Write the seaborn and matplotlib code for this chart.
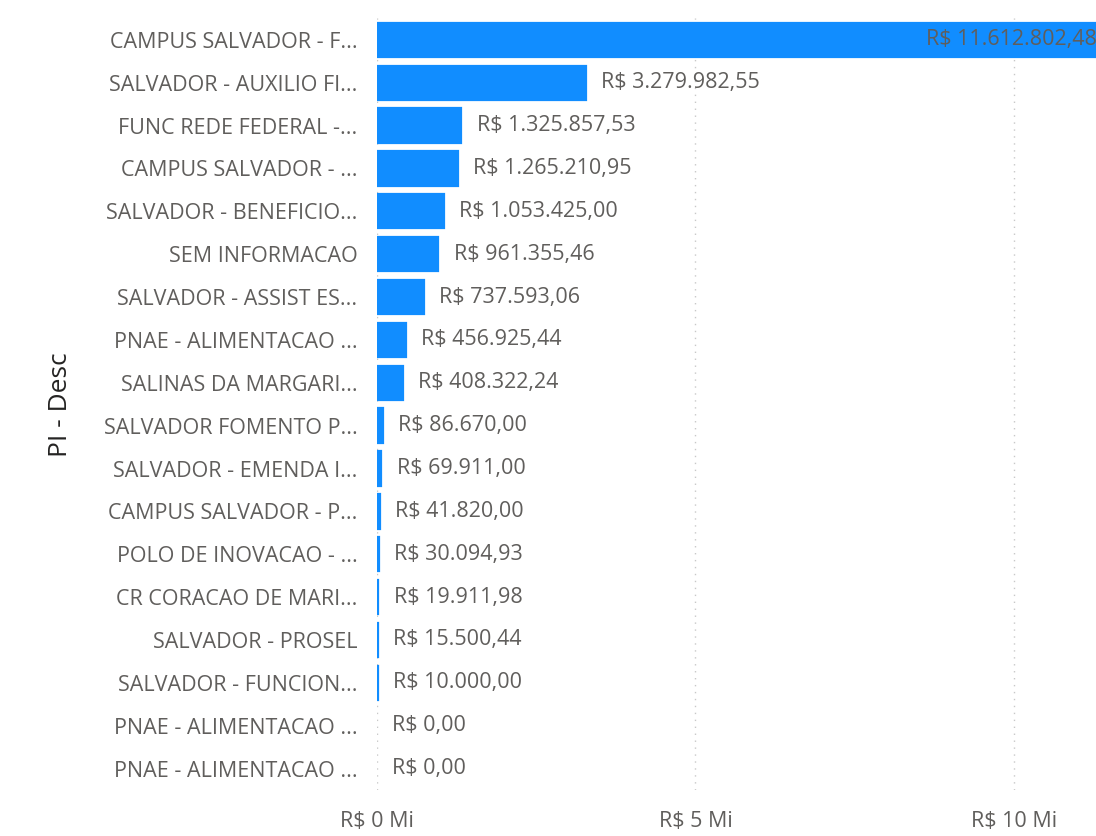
import matplotlib.pyplot as plt
import pandas as pd
import seaborn as sns
from matplotlib.ticker import FuncFormatter

categorias = [
    "CAMPUS SALVADOR - F...",
    "SALVADOR - AUXILIO FI...",
    "FUNC REDE FEDERAL -...",
    "CAMPUS SALVADOR - ...",
    "SALVADOR - BENEFICIO...",
    "SEM INFORMACAO",
    "SALVADOR - ASSIST ES...",
    "PNAE - ALIMENTACAO ...",
    "SALINAS DA MARGARI...",
    "SALVADOR FOMENTO P...",
    "SALVADOR - EMENDA I...",
    "CAMPUS SALVADOR - P...",
    "POLO DE INOVACAO - ...",
    "CR CORACAO DE MARI...",
    "SALVADOR - PROSEL",
    "SALVADOR - FUNCION...",
    "PNAE - ALIMENTACAO ...",
    "PNAE - ALIMENTACAO ...",
]
valores = [
    11612802.48, 3279982.55, 1325857.53, 1265210.95, 1053425.00,
    961355.46, 737593.06, 456925.44, 408322.24, 86670.00,
    69911.00, 41820.00, 30094.93, 19911.98, 15500.44,
    10000.00, 0.00, 0.00,
]
rotulos_valor = [
    "R$ 11.612.802,48", "R$ 3.279.982,55", "R$ 1.325.857,53", "R$ 1.265.210,95",
    "R$ 1.053.425,00", "R$ 961.355,46", "R$ 737.593,06", "R$ 456.925,44",
    "R$ 408.322,24", "R$ 86.670,00", "R$ 69.911,00", "R$ 41.820,00",
    "R$ 30.094,93", "R$ 19.911,98", "R$ 15.500,44", "R$ 10.000,00",
    "R$ 0,00", "R$ 0,00",
]

# id unico por linha, porque alguns nomes truncados se repetem
df = pd.DataFrame({
    "id": [str(i) for i in range(len(categorias))],
    "PI - Desc": categorias,
    "Valor": valores,
})

sns.set_theme(style="white")
plt.rcParams["font.family"] = ["Open Sans", "DejaVu Sans"]

fig = plt.figure(figsize=(10.96, 8.36), dpi=100)
ax = fig.add_axes([0.344, 0.055, 0.656, 0.923])

sns.barplot(data=df, x="Valor", y="id", color="#118DFF", width=0.8,
            saturation=1, edgecolor="#118DFF", linewidth=1.6, ax=ax, zorder=2)

# barras com valor zero nao aparecem (sem contorno)
for p in ax.patches:
    if p.get_width() == 0:
        p.set_linewidth(0)

ax.set_yticks(range(len(categorias)))
ax.set_yticklabels(categorias)
ax.set_xlim(0, 11.29e6)
ax.set_xticks([0, 5e6, 10e6])
ax.xaxis.set_major_formatter(FuncFormatter(lambda v, p: f"R$ {v / 1e6:.0f} Mi"))
ax.grid(axis="x", linestyle=(0, (1, 4)), color="#C8C8C8", linewidth=1, zorder=0)
ax.grid(axis="y", visible=False)
for s in ax.spines.values():
    s.set_visible(False)

ax.tick_params(axis="x", length=0, pad=15, labelsize=15.5, labelcolor="#605E5C")
ax.tick_params(axis="y", length=0, pad=14, labelsize=15.5, labelcolor="#605E5C")
ax.set_xlabel("")
ax.set_ylabel("PI - Desc", fontsize=19, color="#252423", labelpad=22)

for i, (v, txt) in enumerate(zip(valores, rotulos_valor)):
    if i == 0:
        ax.annotate(txt, (v, i), xytext=(-14, 0), textcoords="offset points",
                    ha="right", va="center", fontsize=15.5, color="#605E5C",
                    annotation_clip=False, clip_on=False)
    else:
        ax.annotate(txt, (v, i), xytext=(11, 0), textcoords="offset points",
                    ha="left", va="center", fontsize=15.5, color="#605E5C")

fig.savefig("out.png", dpi=100)
